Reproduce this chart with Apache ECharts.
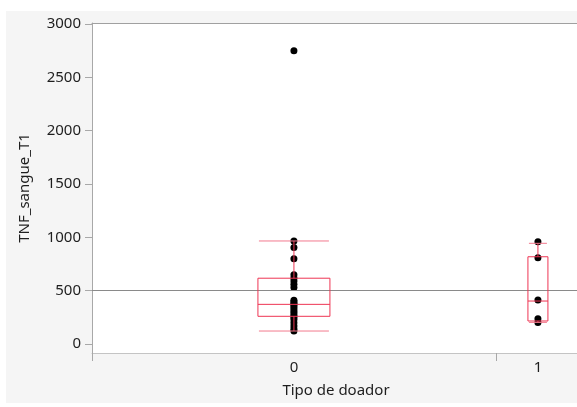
<!DOCTYPE html>
<html>
<head>
<meta charset="utf-8">
<script src="https://cdn.jsdelivr.net/npm/echarts@6/dist/echarts.min.js"></script>
<style>
  html, body { margin: 0; padding: 0; background: #ffffff; }
  #chart { width: 577px; height: 407px; }
</style>
</head>
<body>
<div id="chart"></div>
<script>
// Groups of the one-way plot (x width of each group follows its count)
const categories = ['0', '1'];
const groupCounts = [24, 5];

// TNF_sangue_T1 observations per donor type
const tnfGroup0 = [2750, 965, 905, 800, 650, 620, 590, 560, 530, 410, 395, 380,
                   365, 350, 330, 310, 290, 270, 250, 230, 200, 170, 140, 122];
const tnfGroup1 = [959, 809, 412, 238, 203];

// Box summaries: [lower whisker, Q1, median, Q3, upper whisker]
const boxGroup0 = [122, 260, 372, 617, 966];
const boxGroup1 = [203, 216, 403, 818, 944];

// Grand mean reference line
const grandMean = 500;

// Y tick labels
const yTicks = [0, 500, 1000, 1500, 2000, 2500, 3000];

// ---- layout / derived positions ----
const total = groupCounts.reduce((a, b) => a + b, 0);
const starts = [];
let acc = 0;
groupCounts.forEach(n => { starts.push(acc); acc += n; });
const centers = groupCounts.map((n, i) => starts[i] + n / 2);
const boundaries = starts.slice(1);
const boxHalfPx = [36, 10];

const groupsData = [tnfGroup0, tnfGroup1];
const boxes = [boxGroup0, boxGroup1];

const scatterData = [];
groupsData.forEach((vals, gi) => vals.forEach(v => scatterData.push([centers[gi], v])));
const boxData = boxes.map((b, gi) => [centers[gi]].concat(b));

const FONT = '"Noto Sans", "Open Sans", sans-serif';
const TXT = '#1e1e1e';
const RED = '#ee3553';

const chart = echarts.init(document.getElementById('chart'), null, { renderer: 'canvas' });

chart.setOption({
  backgroundColor: '#ffffff',
  animation: false,
  graphic: [
    { type: 'rect', z: -10, shape: { x: 6, y: 11, width: 571, height: 392 },
      style: { fill: '#f5f5f5' } },
    { type: 'line', z: 10, shape: { x1: 92.5, y1: 353, x2: 92.5, y2: 361 },
      style: { stroke: '#a8a8a8', lineWidth: 1 } }
  ],
  grid: {
    left: 92, width: 488, top: 23, bottom: 54,
    outerBoundsMode: 'none', containLabel: false,
    show: true, backgroundColor: '#ffffff', borderWidth: 0
  },
  xAxis: [{
    type: 'value', min: 0, max: total, position: 'bottom',
    name: 'Tipo de doador', nameLocation: 'middle', nameGap: 30,
    nameTextStyle: { fontFamily: FONT, fontSize: 15, color: TXT },
    axisLine: { show: true, onZero: false, lineStyle: { color: '#c4c4c4', width: 1 } },
    axisTick: { show: true, length: 8, customValues: boundaries,
                lineStyle: { color: '#a8a8a8' } },
    axisLabel: {
      show: true, margin: 7, customValues: centers,
      fontFamily: FONT, fontSize: 15, color: TXT,
      formatter: v => { const i = centers.indexOf(v); return i >= 0 ? categories[i] : ''; }
    },
    splitLine: { show: false }
  }, {
    type: 'value', min: 0, max: total, position: 'top',
    axisLine: { show: true, onZero: false, lineStyle: { color: '#a0a0a0', width: 1 } },
    axisTick: { show: false }, axisLabel: { show: false }, splitLine: { show: false }
  }],
  yAxis: {
    type: 'value', min: -84, max: 3009,
    name: 'TNF_sangue_T1', nameLocation: 'middle', nameGap: 60,
    nameTextStyle: { fontFamily: FONT, fontSize: 15, color: TXT },
    axisLine: { show: true, lineStyle: { color: '#a8a8a8', width: 1 } },
    axisTick: { show: true, length: 7, customValues: yTicks,
                lineStyle: { color: '#a8a8a8' } },
    axisLabel: { margin: 11, customValues: yTicks,
                 fontFamily: FONT, fontSize: 15, color: TXT,
                 formatter: v => String(v) },
    splitLine: { show: false }
  },
  series: [
    {
      type: 'scatter',
      data: scatterData,
      symbol: 'circle', symbolSize: 7,
      itemStyle: { color: '#000000', opacity: 1 },
      z: 3,
      markLine: {
        silent: true, symbol: 'none', label: { show: false },
        lineStyle: { color: '#8a8a8a', width: 1, type: 'solid' },
        data: [{ yAxis: grandMean }]
      }
    },
    {
      type: 'custom',
      data: boxData,
      z: 5,
      renderItem: function (params, api) {
        const gi = params.dataIndex;
        const x = api.value(0);
        const hw = boxHalfPx[gi];
        const pMin = api.coord([x, api.value(1)]);
        const pQ1 = api.coord([x, api.value(2)]);
        const pMed = api.coord([x, api.value(3)]);
        const pQ3 = api.coord([x, api.value(4)]);
        const pMax = api.coord([x, api.value(5)]);
        const cx = pMed[0];
        const st = { stroke: RED, lineWidth: 1, fill: null };
        const capHw = hw - 1;
        return {
          type: 'group',
          children: [
            { type: 'rect', shape: { x: cx - hw, y: pQ3[1], width: 2 * hw, height: pQ1[1] - pQ3[1] },
              style: { stroke: RED, lineWidth: 1, fill: 'rgba(0,0,0,0)' } },
            { type: 'line', shape: { x1: cx - hw, y1: pMed[1], x2: cx + hw, y2: pMed[1] }, style: st },
            { type: 'line', shape: { x1: cx, y1: pQ3[1], x2: cx, y2: pMax[1] }, style: st },
            { type: 'line', shape: { x1: cx, y1: pQ1[1], x2: cx, y2: pMin[1] }, style: st },
            { type: 'line', shape: { x1: cx - capHw, y1: pMax[1], x2: cx + capHw, y2: pMax[1] },
              style: { stroke: '#f27a8e', lineWidth: 1 } },
            { type: 'line', shape: { x1: cx - capHw, y1: pMin[1], x2: cx + capHw, y2: pMin[1] },
              style: { stroke: '#f27a8e', lineWidth: 1 } }
          ]
        };
      }
    }
  ]
});
</script>
</body>
</html>
